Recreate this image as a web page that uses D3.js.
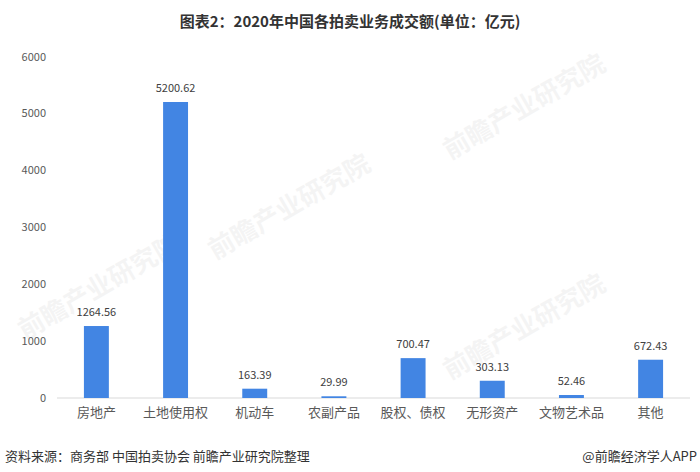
<!DOCTYPE html>
<html><head><meta charset="utf-8">
<script src="https://cdn.jsdelivr.net/npm/d3@7/dist/d3.min.js"></script>
<style>body{margin:0;background:#fff}svg{display:block}</style>
</head><body>
<svg id="c" width="700" height="472"></svg>
<script>
const categories = ["房地产","土地使用权","机动车","农副产品","股权、债权","无形资产","文物艺术品","其他"];
const values = [1264.56,5200.62,163.39,29.99,700.47,303.13,52.46,672.43];
const yTicks = [0,1000,2000,3000,4000,5000,6000];
const title = "图表2：2020年中国各拍卖业务成交额(单位：亿元)";
const source = "资料来源：商务部 中国拍卖协会 前瞻产业研究院整理";
const brand = "@前瞻经济学人APP";

const svg = d3.select("#c");
const font = "'Noto Sans CJK SC','Microsoft YaHei',sans-serif";
const x = d3.scaleBand().domain(categories).range([57,690]).paddingInner(0.685).paddingOuter(0.34);
const y = d3.scaleLinear().domain([0,6000]).range([398,56.5]);

// watermarks
const wm = [[25,340],[215,260],[450,380],[450,160]];
wm.forEach(([wx,wy])=>{
  const g = svg.append("g").attr("transform",`translate(${wx},${wy}) rotate(-30)`).attr("opacity",0.06);
  g.append("text").text("前瞻产业研究院").attr("font-family",font).attr("font-size",26).attr("font-weight","bold").attr("fill","#555");
});

svg.append("text").attr("x",350).attr("y",27).attr("text-anchor","middle")
  .attr("font-family",font).attr("font-size",15).attr("font-weight","bold").attr("fill","#333").text(title);

const yAxis = svg.append("g").attr("transform","translate(46,0)")
  .call(d3.axisLeft(y).tickValues(yTicks).tickFormat(d3.format("d")).tickSize(0).tickPadding(0));
yAxis.select(".domain").remove();
yAxis.selectAll("text").attr("font-family",font).attr("font-size",11).attr("fill","#595959");

svg.append("line").attr("x1",57).attr("x2",690).attr("y1",y(0)).attr("y2",y(0)).attr("stroke","#d9d9d9").attr("stroke-width",1);

svg.selectAll("rect.bar").data(values).join("rect").attr("class","bar")
  .attr("x",(d,i)=>x(categories[i])).attr("width",x.bandwidth())
  .attr("y",d=>y(d)).attr("height",d=>y(0)-y(d)).attr("fill","#4285e3");

svg.selectAll("text.val").data(values).join("text").attr("class","val")
  .attr("x",(d,i)=>x(categories[i])+x.bandwidth()/2).attr("y",d=>y(d)-10)
  .attr("text-anchor","middle").attr("font-family",font).attr("font-size",11).attr("fill","#404040")
  .text(d=>d.toFixed(2));

const xAxis = svg.append("g").attr("transform",`translate(0,${y(0)})`)
  .call(d3.axisBottom(x).tickSize(0).tickPadding(10));
xAxis.select(".domain").remove();
xAxis.selectAll("text").attr("font-family",font).attr("font-size",13).attr("fill","#595959");

svg.append("text").attr("x",5).attr("y",461).attr("font-family",font).attr("font-size",13).attr("fill","#333").text(source);
svg.append("text").attr("x",697).attr("y",461).attr("text-anchor","end").attr("font-family",font).attr("font-size",13).attr("fill","#333").text(brand);
</script>
</body></html>
